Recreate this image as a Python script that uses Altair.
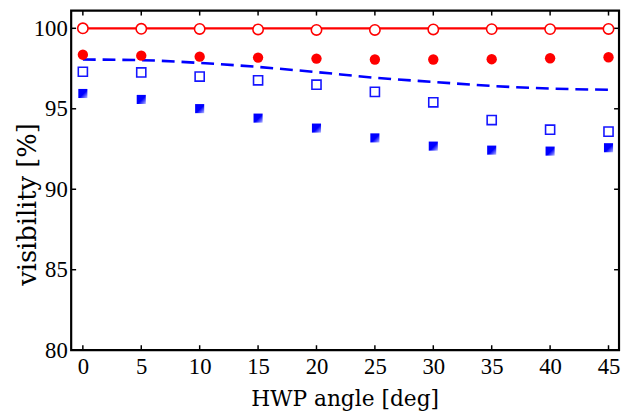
import altair as alt
import pandas as pd

angles = [0, 5, 10, 15, 20, 25, 30, 35, 40, 45]
red_open = [100.0, 99.97, 99.96, 99.93, 99.9, 99.9, 99.93, 99.95, 99.95, 99.96]
red_filled = [98.36, 98.3, 98.24, 98.18, 98.12, 98.06, 98.06, 98.08, 98.14, 98.2]
blue_open = [97.3, 97.26, 97.0, 96.77, 96.5, 96.05, 95.4, 94.3, 93.7, 93.58]
blue_filled = [95.95, 95.58, 95.01, 94.42, 93.8, 93.19, 92.68, 92.43, 92.37, 92.58]
blue_dashed = [98.06, 98.02, 97.85, 97.6, 97.28, 96.93, 96.67, 96.42, 96.26, 96.18]
red_line = [100.0] * 10

x_ticks = [0, 5, 10, 15, 20, 25, 30, 35, 40, 45]
y_ticks = [80, 85, 90, 95, 100]

W, H = 555, 344
LFONT = "Liberation Serif"
TFONT = "DejaVu Serif"

df = pd.DataFrame({
    "angle": angles,
    "red_open": red_open,
    "red_filled": red_filled,
    "blue_open": blue_open,
    "blue_filled": blue_filled,
    "blue_dashed": blue_dashed,
    "red_line": red_line,
})
xt = pd.DataFrame({"t": x_ticks})
yt = pd.DataFrame({"t": y_ticks})

xs = alt.Scale(domain=[-1, 45.9], nice=False, zero=False)
ys = alt.Scale(domain=[80, 101.1], nice=False, zero=False)

x_axis = alt.Axis(values=x_ticks, ticks=False, domain=False, grid=False, tickSize=0,
                  labelPadding=6, labelFont=LFONT, labelFontSize=23, labelColor="black",
                  title="HWP angle [deg]", titleFont=TFONT, titleFontSize=22,
                  titleFontWeight="normal", titleColor="black",
                  titleX=277, titleY=56, titleBaseline="alphabetic", titleAlign="center")
y_axis = alt.Axis(values=y_ticks, ticks=False, domain=False, grid=False, tickSize=0,
                  labelPadding=4, labelFont=LFONT, labelFontSize=23, labelColor="black",
                  title="visibility [%]", titleFont=TFONT, titleFontSize=26,
                  titleFontWeight="normal", titleColor="black",
                  titleX=-36, titleY=196, titleBaseline="alphabetic", titleAlign="center",
                  titleAngle=270)

base = alt.Chart(df)

redline = base.mark_line(color="#ff0000", strokeWidth=2.2).encode(
    x=alt.X("angle:Q", scale=xs, axis=x_axis),
    y=alt.Y("red_line:Q", scale=ys, axis=y_axis),
)
dashed = base.mark_line(color="#0000ff", strokeWidth=2.6, strokeDash=[13, 7],
                        interpolate="monotone").encode(
    x=alt.X("angle:Q", scale=xs),
    y=alt.Y("blue_dashed:Q", scale=ys),
)
ro = base.mark_point(shape="circle", size=110, filled=True, fill="white",
                     stroke="#ff0000", strokeWidth=1.6, opacity=1).encode(
    x=alt.X("angle:Q", scale=xs),
    y=alt.Y("red_open:Q", scale=ys),
)
rf = base.mark_circle(size=110, color="#ff0000", opacity=1).encode(
    x=alt.X("angle:Q", scale=xs),
    y=alt.Y("red_filled:Q", scale=ys),
)
bo = base.mark_point(shape="square", size=85, filled=True, fill="white",
                     stroke="#1515ff", strokeWidth=1.6, opacity=1).encode(
    x=alt.X("angle:Q", scale=xs),
    y=alt.Y("blue_open:Q", scale=ys),
)
grad = alt.LinearGradient(
    gradient="linear",
    stops=[alt.GradientStop(color="#0000ff", offset=0),
           alt.GradientStop(color="#0000ff", offset=0.55),
           alt.GradientStop(color="#b8bcff", offset=1)],
    x1=0, y1=0, x2=1, y2=1,
)
bf = base.mark_square(size=85, fill=grad, opacity=1).encode(
    x=alt.X("angle:Q", scale=xs),
    y=alt.Y("blue_filled:Q", scale=ys),
)

tick_kw = dict(color="black", strokeWidth=1.5)
bt = alt.Chart(xt).mark_rule(**tick_kw).encode(
    x=alt.X("t:Q", scale=xs), y=alt.value(H), y2=alt.value(H - 5))
tt = alt.Chart(xt).mark_rule(**tick_kw).encode(
    x=alt.X("t:Q", scale=xs), y=alt.value(0), y2=alt.value(5))
lt = alt.Chart(yt).mark_rule(**tick_kw).encode(
    y=alt.Y("t:Q", scale=ys), x=alt.value(0), x2=alt.value(5))
rt = alt.Chart(yt).mark_rule(**tick_kw).encode(
    y=alt.Y("t:Q", scale=ys), x=alt.value(W - 5), x2=alt.value(W))

chart = alt.layer(redline, dashed, bt, tt, lt, rt, ro, rf, bo, bf).properties(
    width=W, height=H,
    autosize=alt.AutoSizeParams(type="none"),
    padding={"left": 64, "top": 0, "right": 2, "bottom": 61},
    background="white",
).configure_view(stroke="black", strokeWidth=2.2)

chart.save("out.html", embed_options={"renderer": "svg", "actions": False})
